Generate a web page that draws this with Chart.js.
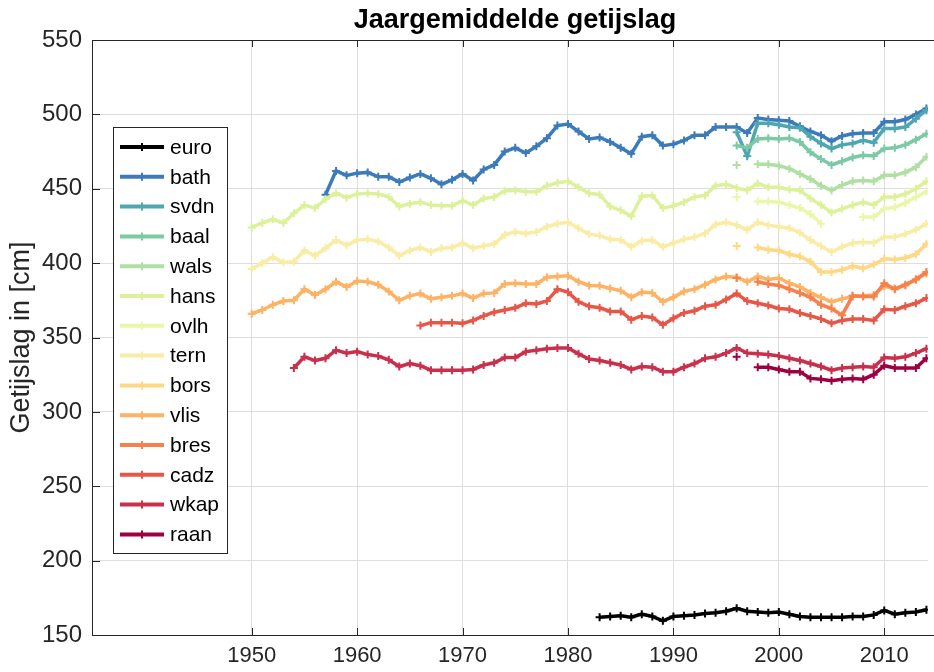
<!DOCTYPE html>
<html>
<head>
<meta charset="utf-8">
<script src="https://cdn.jsdelivr.net/npm/chart.js@4.4.0/dist/chart.umd.min.js"></script>
<style>
  html, body { margin: 0; padding: 0; background: #fff; }
</style>
</head>
<body>
<canvas id="canvas" width="934" height="672"></canvas>
<script>
// station names, first year of each record
const stations = ['euro', 'bath', 'svdn', 'baal', 'wals', 'hans', 'ovlh',
  'tern', 'bors', 'vlis', 'bres', 'cadz', 'wkap', 'raan'];
const firstYear = [1983, 1957, 1996, 1996, 1996, 1950, 1996,
  1950, 1996, 1950, 1996, 1966, 1954, 1996];

// yearly mean tidal range [cm], one value per year from firstYear
const euro = [162, 162.5, 163, 162, 164, 162.5, 159.5, 162.5, 163, 163.5,
  164.5, 165, 166, 168, 166, 165.5, 165, 165.5, 164, 162.5, 162, 162, 162,
  162, 162.5, 162.5, 163.5, 166.5, 164, 165, 165.5, 167];
const bath = [446, 462, 459, 460.5, 461, 458, 458, 454.5, 457.5, 460, 457,
  453, 456, 460, 455.5, 463, 466, 475, 477.5, 474, 478.5, 484, 492.5, 493.5,
  488.5, 483.5, 484.5, 481.5, 477.5, 473.5, 485, 486, 479, 480, 482.5, 486,
  486, 491.5, 491.5, 491.5, 487.5, 497.5, 496.5, 496, 495.5, 492, 488.5, 486,
  482, 485.5, 487, 487.5, 487.5, 495, 495, 496.5, 500, 504];
const svdn = [488, 472, 494, 494, 493, 491.5, 491, 485, 480.5, 477, 479.5,
  480.5, 482.5, 481, 490.5, 490.5, 491.5, 497, 503];
const baal = [479, 477.5, 483.5, 484, 483.5, 484, 481.5, 474.5, 470, 466,
  468.5, 471, 472.5, 472, 477, 477.5, 479.5, 483, 487];
const wals = [466, null, 466.5, 466.5, 465.5, 463.5, 460, 456.5, 452, 449,
  452.5, 455, 455.5, 455, 459, 459, 461, 464.5, 471.5];
const hans = [424, 427, 429.5, 427, 433.5, 439, 437, 443, 447, 444, 446.5,
  447, 446.5, 444.5, 438, 440, 441, 439, 438.5, 438.5, 442, 439, 443.5, 444.5,
  448.5, 449, 448, 448, 452, 454, 455, 451, 447, 446, 438, 435.5, 431.5, 445,
  445.5, 437, 438.5, 441, 444.5, 445.5, 452, 453, 450.5, 449, 453.5, 451, 451,
  449.5, 449, 443.5, 439, 434, 436.5, 439, 441, 439, 444.5, 444.5, 446.5, 450,
  455];
const ovlh = [444.5, null, 441.5, 441.5, 441, 439, 437, 433, 426.5, null,
  null, null, 431, 431, 436.5, 437.5, 440.5, 444.5, 448];
const tern = [396, 400, 404, 400.5, 401, 408.5, 405, 410, 415.5, 412, 415.5,
  416, 414.5, 410.5, 405, 408.5, 410.5, 407.5, 410, 410.5, 413.5, 410, 411.5,
  413, 419, 421, 420, 421, 424.5, 426.5, 427.5, 423.5, 419.5, 418.5, 416,
  415.5, 411, 415, 415.5, 411, 413.5, 416, 417.5, 420, 426, 427.5, 425.5,
  422.5, 427.5, 425.5, 424.5, 423.5, 420.5, 415.5, 411.5, 407.5, 411, 413.5,
  414, 413.5, 417.5, 417.5, 419.5, 422.5, 426.5];
const bors = [411.5, null, 410.5, 409, 408.5, 406, 404.5, 401, 394, 394,
  395.5, 398, 396.5, 399, 403, 402.5, 403.5, 406, 413];
const vlis = [366, 368.5, 372, 374.5, 375, 382.5, 378.5, 382.5, 387.5, 384,
  388, 387.5, 385.5, 381, 375, 378, 379.5, 376, 377, 378, 379.5, 376.5, 379.5,
  380, 386, 386.5, 386, 386, 390.5, 391, 391.5, 387.5, 385, 384.8, 383, 381.5,
  377, 380.5, 380, 374, 377, 381, 382.5, 385.5, 389, 391, 390.5, 387.5, 391,
  389, 390, 386.5, 384, 380, 377, 374, 376, 377.5, 378, 378.5, 384.5, 383, 385,
  389, 393];
const bres = [390, null, 387.5, 386, 385, 382.5, 380, 377, 372, 369.5, 365,
  378, 377.5, 377.5, 386.5, 382.5, 385.5, 389, 394];
const cadz = [358, 360, 360, 360, 359.5, 361.5, 364.5, 367, 368.5, 370, 373,
  372.5, 374.5, 382.5, 380.5, 374, 371, 370, 367.5, 367.5, 362, 364.5, 363.5,
  358.5, 363, 366.5, 368, 371, 372, 375.5, 379.5, 374.5, 373, 371.5, 369.5,
  369, 366.5, 364.5, 362.5, 359.5, 361.5, 362.5, 362.5, 361.5, 369, 368.5, 371,
  373, 376.5];
const wkap = [329.5, 337, 334.5, 336, 341.5, 339.5, 340.5, 338.5, 337.5, 335,
  330.5, 332.5, 331, 328, 328, 328, 328, 328.5, 331.5, 333, 336.5, 336.5, 340.5,
  341.5, 342.5, 343, 343, 339, 335.5, 334.5, 333, 331.5, 328.5, 330.5, 330, 327,
  327, 330, 332.5, 336, 337, 339.5, 343, 339.5, 339, 338.5, 337.5, 336, 334.5,
  332.5, 330.5, 328, 329.5, 330, 330.5, 330, 336.5, 336, 337, 339.5, 342.5];
const raan = [337, null, 330, 330, 328.5, 327, 327, 322.5, 322, 321, 322,
  322.5, 322, 325, 331, 329.5, 329.5, 329.5, 336];

const series = [euro, bath, svdn, baal, wals, hans, ovlh, tern, bors, vlis,
  bres, cadz, wkap, raan];

const colors = ['#000000', '#3c7bba', '#4ea7b0', '#7bcaa5', '#b0dfa3',
  '#ddf19a', '#ecf6a8', '#f9eca4', '#fed885', '#fdb264', '#f7814c', '#e65748',
  '#c8304c', '#9e0142'];

const yearTicks = [1950, 1960, 1970, 1980, 1990, 2000, 2010];
const rangeTicks = [150, 200, 250, 300, 350, 400, 450, 500, 550];

const FONT = '"Liberation Sans", Arial, Helvetica, sans-serif';
const AXIS = '#262626';

const datasets = stations.map((name, i) => ({
  label: name,
  data: series[i].map((v, k) => ({ x: firstYear[i] + k, y: v })),
  borderColor: colors[i],
  backgroundColor: colors[i],
  borderWidth: 3.5,
  pointStyle: 'cross',
  pointRadius: 4,
  pointBorderWidth: 2,
  pointHoverRadius: 4,
  spanGaps: false,
  tension: 0,
  order: stations.length - i
}));

// matlab style: box, inward ticks, title, legend inside the axes
const matlabLook = {
  id: 'matlabLook',
  afterDraw(chart) {
    const { ctx, chartArea: a, scales } = chart;
    ctx.save();
    ctx.strokeStyle = AXIS;
    ctx.lineWidth = 1;
    ctx.strokeRect(a.left + 0.5, a.top + 0.5, a.right - a.left + 20, a.bottom - a.top);

    ctx.beginPath();
    yearTicks.forEach(v => {
      const x = Math.round(scales.x.getPixelForValue(v)) + 0.5;
      ctx.moveTo(x, a.bottom); ctx.lineTo(x, a.bottom - 7);
      ctx.moveTo(x, a.top); ctx.lineTo(x, a.top + 7);
    });
    rangeTicks.forEach(v => {
      const y = Math.round(scales.y.getPixelForValue(v)) + 0.5;
      ctx.moveTo(a.left, y); ctx.lineTo(a.left + 8, y);
    });
    ctx.stroke();

    ctx.fillStyle = '#000';
    ctx.font = 'bold 27px ' + FONT;
    ctx.textAlign = 'center';
    ctx.textBaseline = 'middle';
    ctx.fillText('Jaargemiddelde getijslag', (a.left + a.right) / 2 + 5, 21);

    // legend
    const lx = 113, ly = 127, lw = 114, lh = 426;
    ctx.fillStyle = '#fff';
    ctx.fillRect(lx, ly, lw, lh);
    ctx.strokeStyle = AXIS;
    ctx.lineWidth = 1;
    ctx.strokeRect(lx + 0.5, ly + 0.5, lw, lh);
    ctx.textAlign = 'left';
    ctx.font = '21px ' + FONT;
    chart.data.datasets.forEach((ds, i) => {
      const y = 147 + i * 29.8;
      ctx.strokeStyle = ds.borderColor;
      ctx.lineWidth = 4;
      ctx.beginPath(); ctx.moveTo(120, y); ctx.lineTo(164, y); ctx.stroke();
      ctx.lineWidth = 2;
      ctx.beginPath();
      ctx.moveTo(138, y); ctx.lineTo(146, y);
      ctx.moveTo(142, y - 4); ctx.lineTo(142, y + 4);
      ctx.stroke();
      ctx.fillStyle = '#000';
      ctx.fillText(ds.label, 170, y + 1);
    });
    ctx.restore();
  }
};

const ctx = document.getElementById('canvas').getContext('2d');

const myChart = new Chart(ctx, {
  type: 'line',
  data: { datasets: datasets },
  plugins: [matlabLook],
  options: {
    responsive: false,
    animation: false,
    devicePixelRatio: 1,
    events: [],
    layout: { padding: { top: 40, right: 0, bottom: 0, left: 0 } },
    plugins: {
      legend: { display: false },
      title: { display: false },
      tooltip: { enabled: false }
    },
    scales: {
      x: {
        type: 'linear',
        min: 1934.85,
        max: 2014.15,
        afterBuildTicks: s => { s.ticks = yearTicks.map(v => ({ value: v })); },
        afterFit: s => { s.height = 37; },
        border: { display: false },
        grid: { color: '#dedede', drawTicks: false },
        ticks: {
          color: AXIS,
          font: { family: FONT, size: 22 },
          padding: 8,
          maxRotation: 0,
          autoSkip: false,
          callback: v => String(v)
        }
      },
      y: {
        type: 'linear',
        min: 150,
        max: 550,
        afterBuildTicks: s => { s.ticks = rangeTicks.map(v => ({ value: v })); },
        afterFit: s => { s.width = 92; },
        border: { display: false },
        grid: { color: '#dedede', drawTicks: false },
        ticks: {
          color: AXIS,
          font: { family: FONT, size: 24 },
          padding: 10,
          callback: v => String(v)
        },
        title: {
          display: true,
          text: 'Getijslag in [cm]',
          color: AXIS,
          font: { family: FONT, size: 27 },
          padding: { top: 5, bottom: 0 }
        }
      }
    }
  }
});
</script>
</body>
</html>
